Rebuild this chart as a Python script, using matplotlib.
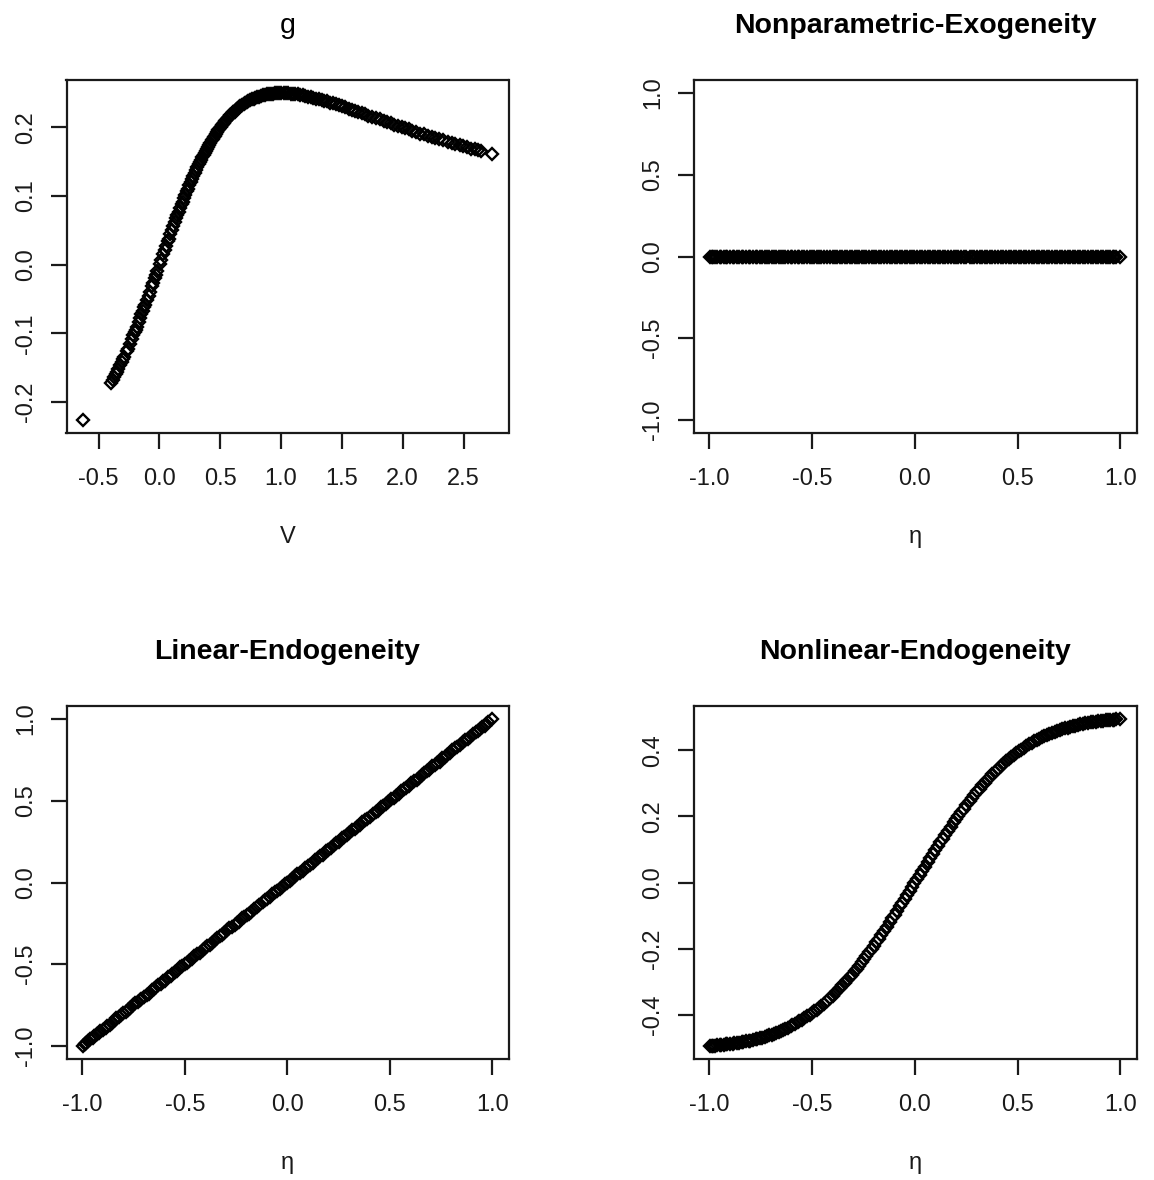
import matplotlib
matplotlib.use("Agg")
import matplotlib.pyplot as plt
from matplotlib.ticker import FormatStrFormatter

plt.rcParams["font.family"] = ["Liberation Sans", "DejaVu Sans"]
plt.rcParams["font.size"] = 17
plt.rcParams["axes.unicode_minus"] = False

# control variable V and the fitted g(V)
v = [-0.630,
     -0.398, -0.385, -0.372, -0.360, -0.351, -0.340, -0.322, -0.310, -0.301, -0.290,
     -0.271, -0.262, -0.245, -0.228, -0.214, -0.205, -0.197, -0.188, -0.172, -0.160,
     -0.148, -0.139, -0.125, -0.118, -0.103, -0.090, -0.078, -0.062, -0.055, -0.041,
     -0.030, -0.018, 0.001, 0.015, 0.030, 0.042, 0.055, 0.068, 0.076, 0.090,
     0.102, 0.113, 0.125, 0.138, 0.147, 0.158, 0.170, 0.181, 0.190, 0.201,
     0.212, 0.224, 0.233, 0.245, 0.256, 0.268, 0.279, 0.290, 0.301, 0.312,
     0.322, 0.333, 0.342, 0.353, 0.362, 0.371, 0.381, 0.390, 0.400, 0.409,
     0.418, 0.428, 0.437, 0.446, 0.455, 0.465, 0.474, 0.483, 0.492, 0.502,
     0.511, 0.520, 0.530, 0.540, 0.550, 0.561, 0.572, 0.583, 0.594, 0.606,
     0.617, 0.629, 0.641, 0.653, 0.666, 0.678, 0.691, 0.704, 0.717, 0.731,
     0.745, 0.759, 0.773, 0.788, 0.803, 0.818, 0.833, 0.849, 0.865, 0.881,
     0.898, 0.915, 0.932, 0.949, 0.967, 0.985, 1.003, 1.022, 1.040, 1.059,
     1.078, 1.098, 1.118, 1.138, 1.158, 1.179, 1.200, 1.221, 1.243, 1.265,
     1.287, 1.310, 1.333, 1.356, 1.380, 1.404, 1.428, 1.453, 1.478, 1.503,
     1.529, 1.555, 1.581, 1.608, 1.635, 1.662, 1.690, 1.718, 1.750, 1.781,
     1.810, 1.843, 1.870, 1.902, 1.930, 1.962, 1.991, 2.020, 2.052, 2.080,
     2.111, 2.145, 2.172, 2.205, 2.238, 2.265, 2.301, 2.335, 2.372, 2.402,
     2.431, 2.468, 2.497, 2.530, 2.562, 2.591, 2.615, 2.642, 2.735]
g = [-0.226,
     -0.172, -0.168, -0.163, -0.159, -0.156, -0.152, -0.146, -0.141, -0.138, -0.134,
     -0.126, -0.123, -0.116, -0.108, -0.102, -0.098, -0.095, -0.091, -0.084, -0.078,
     -0.072, -0.068, -0.062, -0.058, -0.051, -0.045, -0.039, -0.031, -0.027, -0.020,
     -0.015, -0.009, 0.001, 0.007, 0.015, 0.021, 0.027, 0.034, 0.038, 0.045,
     0.050, 0.056, 0.062, 0.068, 0.072, 0.077, 0.083, 0.088, 0.092, 0.097,
     0.101, 0.107, 0.110, 0.116, 0.120, 0.125, 0.129, 0.134, 0.138, 0.142,
     0.146, 0.150, 0.153, 0.157, 0.160, 0.163, 0.166, 0.169, 0.172, 0.175,
     0.178, 0.181, 0.183, 0.186, 0.188, 0.191, 0.194, 0.196, 0.198, 0.200,
     0.203, 0.205, 0.207, 0.209, 0.211, 0.213, 0.215, 0.218, 0.220, 0.222,
     0.223, 0.225, 0.227, 0.229, 0.231, 0.232, 0.234, 0.235, 0.237, 0.238,
     0.240, 0.241, 0.242, 0.243, 0.244, 0.245, 0.246, 0.247, 0.247, 0.248,
     0.249, 0.249, 0.249, 0.250, 0.250, 0.250, 0.250, 0.250, 0.250, 0.250,
     0.249, 0.249, 0.248, 0.248, 0.247, 0.247, 0.246, 0.245, 0.244, 0.243,
     0.242, 0.241, 0.240, 0.239, 0.238, 0.236, 0.235, 0.234, 0.232, 0.231,
     0.229, 0.227, 0.226, 0.224, 0.223, 0.221, 0.219, 0.217, 0.215, 0.213,
     0.212, 0.210, 0.208, 0.206, 0.204, 0.202, 0.201, 0.199, 0.197, 0.195,
     0.193, 0.191, 0.190, 0.188, 0.186, 0.185, 0.183, 0.181, 0.179, 0.177,
     0.176, 0.174, 0.173, 0.171, 0.169, 0.168, 0.167, 0.166, 0.161]

# eta sample shared by the three endogeneity panels
eta = [-0.998, -0.990, -0.981, -0.975, -0.962, -0.951, -0.944, -0.930, -0.921, -0.913,
       -0.899, -0.887, -0.880, -0.866, -0.858, -0.843, -0.835, -0.822, -0.810, -0.803,
       -0.789, -0.776, -0.768, -0.754, -0.745, -0.731, -0.720, -0.712, -0.698, -0.686,
       -0.677, -0.663, -0.652, -0.641, -0.630, -0.618, -0.605, -0.597, -0.583, -0.570,
       -0.562, -0.548, -0.539, -0.524, -0.513, -0.502, -0.489, -0.478, -0.466, -0.455,
       -0.443, -0.428, -0.412, -0.401, -0.390, -0.377, -0.366, -0.353, -0.342, -0.330,
       -0.318, -0.307, -0.294, -0.283, -0.271, -0.258, -0.247, -0.236, -0.222, -0.211,
       -0.199, -0.187, -0.176, -0.163, -0.150, -0.138, -0.121, -0.110, -0.098, -0.086,
       -0.073, -0.062, -0.050, -0.038, -0.025, -0.013, -0.002, 0.011, 0.023, 0.036,
       0.048, 0.063, 0.074, 0.087, 0.099, 0.111, 0.124, 0.136, 0.148, 0.161,
       0.175, 0.189, 0.200, 0.212, 0.225, 0.237, 0.250, 0.266, 0.278, 0.290,
       0.303, 0.315, 0.328, 0.340, 0.352, 0.365, 0.377, 0.390, 0.404, 0.419,
       0.431, 0.443, 0.456, 0.468, 0.481, 0.493, 0.506, 0.518, 0.531, 0.543,
       0.556, 0.568, 0.580, 0.593, 0.605, 0.618, 0.630, 0.643, 0.655, 0.668,
       0.680, 0.693, 0.705, 0.718, 0.730, 0.743, 0.755, 0.768, 0.780, 0.793,
       0.805, 0.818, 0.830, 0.843, 0.855, 0.868, 0.880, 0.893, 0.906, 0.918,
       0.929, 0.941, 0.952, 0.963, 0.971, 0.980, 0.999]

exo = [0.0] * len(eta)

lin = [-1.00, -0.99, -0.98, -0.97, -0.96, -0.95, -0.94, -0.93, -0.92, -0.91,
       -0.90, -0.89, -0.88, -0.87, -0.86, -0.84, -0.83, -0.82, -0.81, -0.80,
       -0.79, -0.78, -0.77, -0.75, -0.74, -0.73, -0.72, -0.71, -0.70, -0.69,
       -0.68, -0.66, -0.65, -0.64, -0.63, -0.62, -0.60, -0.60, -0.58, -0.57,
       -0.56, -0.55, -0.54, -0.52, -0.51, -0.50, -0.49, -0.48, -0.47, -0.45,
       -0.44, -0.43, -0.41, -0.40, -0.39, -0.38, -0.37, -0.35, -0.34, -0.33,
       -0.32, -0.31, -0.29, -0.28, -0.27, -0.26, -0.25, -0.24, -0.22, -0.21,
       -0.20, -0.19, -0.18, -0.16, -0.15, -0.14, -0.12, -0.11, -0.10, -0.09,
       -0.07, -0.06, -0.05, -0.04, -0.03, -0.01, 0.00, 0.01, 0.02, 0.04,
       0.05, 0.06, 0.07, 0.09, 0.10, 0.11, 0.12, 0.14, 0.15, 0.16,
       0.17, 0.19, 0.20, 0.21, 0.23, 0.24, 0.25, 0.27, 0.28, 0.29,
       0.30, 0.32, 0.33, 0.34, 0.35, 0.37, 0.38, 0.39, 0.40, 0.42,
       0.43, 0.44, 0.46, 0.47, 0.48, 0.49, 0.51, 0.52, 0.53, 0.54,
       0.56, 0.57, 0.58, 0.59, 0.61, 0.62, 0.63, 0.64, 0.66, 0.67,
       0.68, 0.69, 0.71, 0.72, 0.73, 0.74, 0.76, 0.77, 0.78, 0.79,
       0.81, 0.82, 0.83, 0.84, 0.86, 0.87, 0.88, 0.89, 0.91, 0.92,
       0.93, 0.94, 0.95, 0.96, 0.97, 0.98, 1.00]

nonlin = [-0.494, -0.493, -0.493, -0.493, -0.492, -0.491, -0.491, -0.490, -0.489, -0.489,
          -0.488, -0.487, -0.486, -0.485, -0.484, -0.482, -0.482, -0.480, -0.479, -0.478,
          -0.476, -0.474, -0.473, -0.470, -0.469, -0.466, -0.464, -0.462, -0.460, -0.457,
          -0.455, -0.451, -0.448, -0.445, -0.442, -0.439, -0.435, -0.432, -0.428, -0.423,
          -0.420, -0.415, -0.411, -0.405, -0.400, -0.395, -0.389, -0.384, -0.378, -0.372,
          -0.366, -0.358, -0.349, -0.342, -0.335, -0.327, -0.320, -0.311, -0.304, -0.295,
          -0.287, -0.279, -0.269, -0.260, -0.251, -0.241, -0.232, -0.222, -0.211, -0.201,
          -0.191, -0.180, -0.170, -0.158, -0.146, -0.135, -0.119, -0.108, -0.097, -0.085,
          -0.072, -0.062, -0.050, -0.038, -0.025, -0.013, -0.002, 0.011, 0.023, 0.036,
          0.048, 0.063, 0.073, 0.086, 0.098, 0.109, 0.122, 0.133, 0.144, 0.156,
          0.169, 0.182, 0.191, 0.202, 0.213, 0.223, 0.234, 0.247, 0.256, 0.266,
          0.276, 0.284, 0.294, 0.302, 0.311, 0.319, 0.327, 0.335, 0.344, 0.353,
          0.359, 0.366, 0.373, 0.379, 0.385, 0.391, 0.397, 0.402, 0.408, 0.413,
          0.418, 0.422, 0.427, 0.431, 0.435, 0.439, 0.442, 0.446, 0.449, 0.453,
          0.455, 0.458, 0.461, 0.464, 0.466, 0.468, 0.471, 0.473, 0.474, 0.476,
          0.478, 0.480, 0.481, 0.482, 0.484, 0.485, 0.486, 0.487, 0.488, 0.489,
          0.490, 0.491, 0.491, 0.492, 0.492, 0.493, 0.494]


def r_range(vals):
    # default R axis range: data range padded by 4% on each side
    lo, hi = min(vals), max(vals)
    if lo == hi:
        lo, hi = lo - 1, hi + 1
    pad = 0.04 * (hi - lo)
    return lo - pad, hi + pad


W, H = 1154, 1180
fig = plt.figure(figsize=(W / 100, H / 100), dpi=100)


def panel(box, x, y, title, xlab, xticks, yticks, bold=True):
    x0, y0, x1, y1 = box
    ax = fig.add_axes([x0 / W, 1 - y1 / H, (x1 - x0) / W, (y1 - y0) / H])
    ax.plot(x, y, ls="none", marker="D", ms=5.8, mfc="none", mec="black", mew=1.7)
    ax.set_xlim(r_range(x))
    ax.set_ylim(r_range(y))
    ax.set_xticks(xticks)
    ax.set_yticks(yticks)
    ax.xaxis.set_major_formatter(FormatStrFormatter("%.1f"))
    ax.yaxis.set_major_formatter(FormatStrFormatter("%.1f"))
    for s in ax.spines.values():
        s.set_linewidth(1.6)
        s.set_color("#1a1a1a")
    ax.tick_params(direction="out", length=11.3, width=1.6, labelsize=17,
                   color="#1a1a1a", labelcolor="#1a1a1a")
    ax.tick_params(axis="x", pad=14)
    ax.tick_params(axis="y", pad=10)
    for lab in ax.get_yticklabels():
        lab.set_rotation(90)
        lab.set_va("center")
    ax.set_title(title, fontsize=20.5, fontweight="bold" if bold else "normal", pad=34)
    ax.set_xlabel(xlab, fontsize=17, va="center", color="#1a1a1a")
    ax.xaxis.set_label_coords(0.5, -0.295)
    return ax


eta_ticks = [-1.0, -0.5, 0.0, 0.5, 1.0]
panel((66.5, 80, 508.5, 433), v, g, "g", "V",
      [-0.5, 0.0, 0.5, 1.0, 1.5, 2.0, 2.5], [-0.2, -0.1, 0.0, 0.1, 0.2], bold=False)
panel((693.5, 80, 1136.5, 433), eta, exo, "Nonparametric-Exogeneity", "\u03b7",
      eta_ticks, eta_ticks)
panel((66.5, 706, 508.5, 1059), eta, lin, "Linear-Endogeneity", "\u03b7",
      eta_ticks, eta_ticks)
panel((693.5, 706, 1136.5, 1059), eta, nonlin, "Nonlinear-Endogeneity", "\u03b7",
      eta_ticks, [-0.4, -0.2, 0.0, 0.2, 0.4])

fig.savefig("out.png", dpi=100, facecolor="white")
